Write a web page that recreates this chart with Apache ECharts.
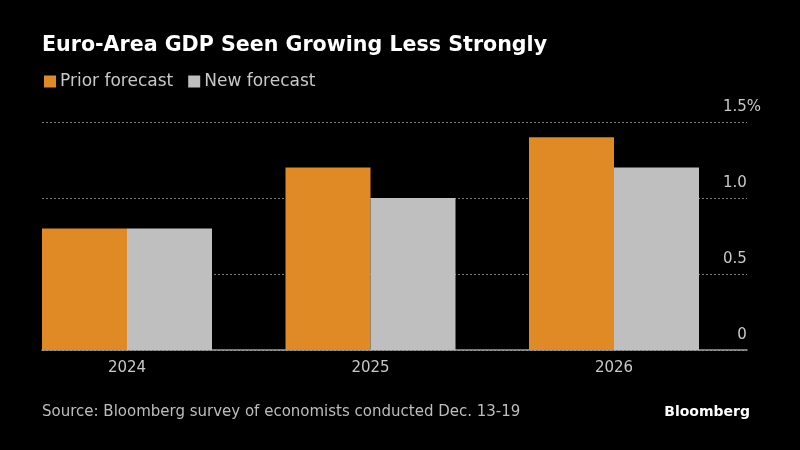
<!DOCTYPE html>
<html><head><meta charset="utf-8">
<script src="https://cdn.jsdelivr.net/npm/echarts@6/dist/echarts.min.js"></script>
<style>html,body{margin:0;padding:0;background:#000}#c{width:800px;height:450px}</style>
</head><body><div id="c"></div>
<script>
const categories = ['2024', '2025', '2026'];
const priorForecast = [0.8, 1.2, 1.4];
const newForecast = [0.8, 1.0, 1.2];
const yMin = 0, yMax = 1.5, yStep = 0.5;

const FONT = 'DejaVu Sans';
const chart = echarts.init(document.getElementById('c'));
chart.setOption({
  backgroundColor: '#000',
  animation: false,
  textStyle: { fontFamily: FONT },
  title: [
    { text: 'Euro-Area GDP Seen Growing Less Strongly', left: 37, top: 30,
      textStyle: { color: '#fff', fontSize: 20.6, fontWeight: 'bold', fontFamily: FONT } },
    { text: 'Source: Bloomberg survey of economists conducted Dec. 13-19', left: 37, top: 400,
      textStyle: { color: '#bdbdbd', fontSize: 15, fontWeight: 'normal', fontFamily: FONT } },
    { text: 'Bloomberg', right: 45, top: 400,
      textStyle: { color: '#fff', fontSize: 14, fontWeight: 'bold', fontFamily: FONT } }
  ],
  legend: {
    left: 39, top: 68, itemWidth: 12, itemHeight: 12, itemGap: 15, icon: 'rect',
    textStyle: { color: '#c8c8c8', fontSize: 17, fontFamily: FONT, padding: [0, 0, 0, -1] },
    data: ['Prior forecast', 'New forecast']
  },
  grid: [
    { left: 5.25, right: 64.25, top: 122, bottom: 100 },
    { left: 42, right: 53, top: 122, bottom: 100 }
  ],
  xAxis: [
    { type: 'category', gridIndex: 0, data: categories,
      axisLine: { show: false }, axisTick: { show: false },
      axisLabel: { color: '#c8c8c8', fontSize: 15, margin: 11, fontFamily: FONT } },
    { type: 'value', gridIndex: 1, min: 0, max: 1, show: true,
      axisLine: { show: true, lineStyle: { color: '#a0a0a0', width: 1.5 } },
      axisTick: { show: false }, axisLabel: { show: false }, splitLine: { show: false } }
  ],
  yAxis: [
    { type: 'value', gridIndex: 0, min: yMin, max: yMax, interval: yStep, show: false },
    { type: 'value', gridIndex: 1, min: yMin, max: yMax, interval: yStep, position: 'right',
      axisLine: { show: false }, axisTick: { show: false },
      splitLine: { show: true, lineStyle: { color: '#7a7a7a', type: [2, 2], width: 1 } },
      axisLabel: {
        inside: true, margin: -14, verticalAlign: 'bottom', padding: [0, 0, 7, 0],
        color: '#c8c8c8', fontSize: 15, fontFamily: FONT,
        formatter: function (v) {
          const s = v === 0 ? '0' : v.toFixed(1);
          return '{n|' + s + '}' + (v === yMax ? '{p|%}' : '{h|%}');
        },
        rich: {
          n: { color: '#c8c8c8', fontSize: 15, fontFamily: FONT },
          p: { color: '#c8c8c8', fontSize: 15, fontFamily: FONT },
          h: { color: 'rgba(0,0,0,0)', fontSize: 15, fontFamily: FONT }
        }
      } }
  ],
  series: [
    { name: 'Prior forecast', type: 'bar', xAxisIndex: 0, yAxisIndex: 0, data: priorForecast,
      barWidth: 85, barGap: '0%', itemStyle: { color: '#DF8A24' } },
    { name: 'New forecast', type: 'bar', xAxisIndex: 0, yAxisIndex: 0, data: newForecast,
      barWidth: 85, barGap: '0%', itemStyle: { color: '#BFBFBF' } }
  ]
});
</script></body></html>
